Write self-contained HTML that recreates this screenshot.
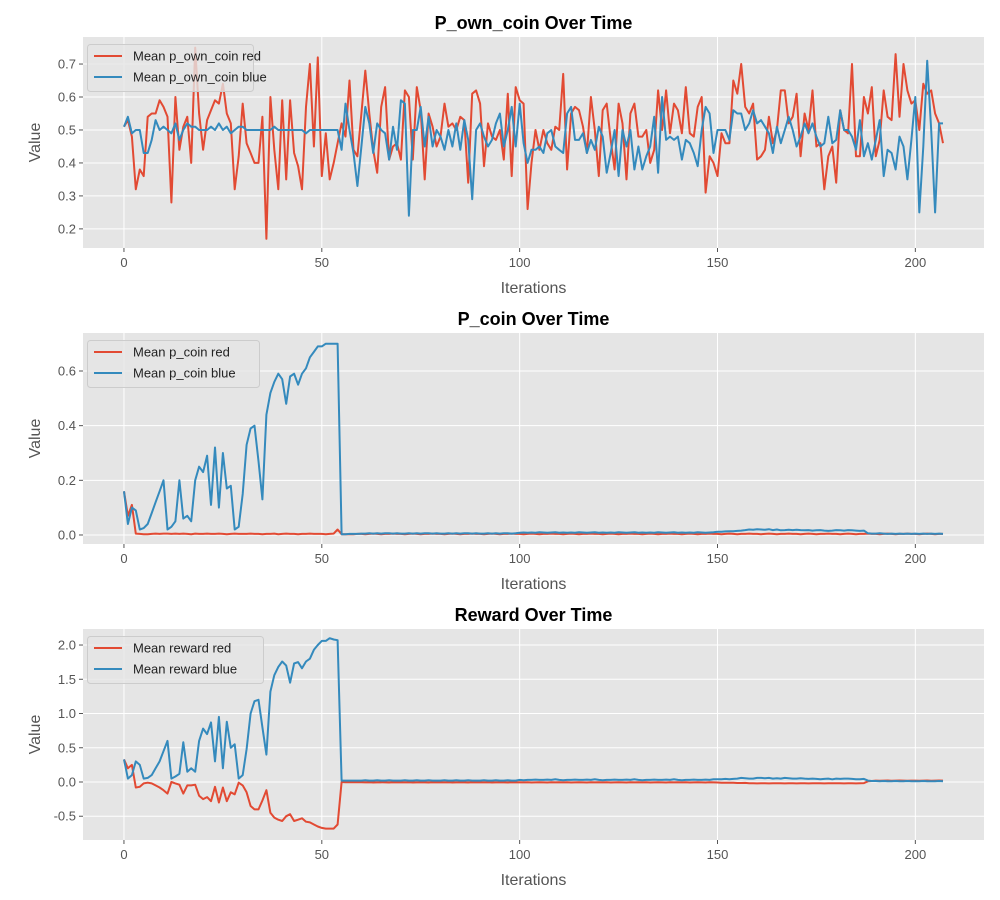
<!DOCTYPE html>
<html><head><meta charset="utf-8"><style>
body{margin:0;background:#fff}
svg{display:block;font-family:"Liberation Sans","DejaVu Sans",sans-serif}
</style></head><body>
<svg id="fig" width="1000" height="900" xmlns="http://www.w3.org/2000/svg"></svg>
<script>
const iterations_count = 208;
const xTicks = [0,50,100,150,200];
const ownRed = [.51,.53,.48,.32,.38,.36,.54,.55,.55,.59,.57,.54,.28,.60,.44,.51,.54,.40,.75,.55,.44,.53,.56,.59,.58,.64,.55,.52,.32,.42,.58,.46,.43,.40,.40,.54,.17,.60,.44,.32,.59,.35,.59,.43,.39,.32,.57,.70,.45,.72,.36,.49,.35,.40,.46,.52,.48,.65,.44,.42,.55,.68,.55,.44,.37,.57,.63,.41,.45,.46,.41,.62,.60,.41,.63,.56,.35,.55,.51,.45,.48,.58,.51,.52,.50,.54,.53,.34,.61,.62,.58,.39,.52,.48,.47,.50,.41,.61,.36,.63,.59,.58,.26,.40,.50,.44,.50,.46,.44,.51,.50,.67,.38,.55,.57,.56,.51,.43,.60,.50,.36,.56,.58,.47,.38,.58,.52,.35,.55,.58,.48,.48,.50,.40,.44,.62,.50,.62,.49,.58,.56,.49,.63,.49,.48,.57,.60,.31,.42,.40,.36,.49,.46,.46,.65,.61,.70,.57,.55,.58,.41,.42,.44,.54,.46,.50,.62,.62,.52,.54,.61,.42,.55,.50,.62,.45,.46,.32,.42,.45,.34,.56,.50,.49,.70,.42,.42,.60,.55,.63,.42,.47,.62,.54,.53,.73,.54,.70,.62,.58,.59,.50,.64,.61,.62,.55,.52,.46];
const ownBlue = [.51,.54,.49,.50,.50,.43,.43,.47,.53,.50,.51,.50,.49,.52,.47,.50,.52,.51,.51,.50,.50,.50,.51,.50,.52,.50,.51,.49,.50,.51,.51,.50,.50,.50,.50,.50,.50,.50,.51,.50,.50,.50,.50,.50,.50,.50,.49,.50,.50,.50,.50,.50,.50,.50,.50,.44,.58,.50,.43,.33,.45,.57,.52,.43,.52,.50,.49,.41,.51,.44,.59,.58,.24,.50,.50,.57,.45,.54,.45,.50,.48,.44,.50,.45,.52,.44,.53,.47,.29,.50,.52,.48,.45,.47,.52,.55,.45,.50,.57,.45,.58,.46,.40,.44,.44,.45,.43,.49,.50,.45,.44,.43,.55,.57,.47,.47,.49,.43,.47,.44,.51,.48,.37,.43,.50,.36,.50,.45,.50,.38,.45,.38,.42,.45,.54,.37,.60,.47,.48,.47,.48,.41,.47,.46,.43,.39,.50,.57,.55,.43,.50,.50,.50,.47,.56,.55,.55,.50,.52,.56,.52,.53,.51,.49,.43,.51,.46,.50,.54,.50,.45,.48,.52,.49,.52,.48,.45,.46,.54,.46,.47,.56,.50,.50,.48,.44,.53,.42,.46,.41,.47,.53,.36,.44,.43,.38,.48,.45,.35,.47,.60,.25,.45,.71,.50,.25,.52,.52];
const coinRed = [.16,.07,.11,.005,.004,.003,.003,.004,.005,.004,.005,.005,.004,.005,.004,.005,.004,.003,.005,.004,.004,.005,.004,.004,.005,.004,.003,.004,.005,.004,.004,.004,.005,.004,.004,.003,.004,.004,.005,.003,.004,.005,.004,.004,.003,.004,.004,.005,.004,.004,.004,.003,.004,.005,.02,.003,.003,.003,.003,.004,
.004,.003,.004,.005,.004,.003,.004,.004,.005,.004,.004,.003,.004,.005,.004,.003,.004,.004,.005,.004,.004,.003,.004,.005,.004,.003,.004,.004,.005,.004,.004,.003,.004,.005,.004,.003,.004,.004,.005,.004,.004,.003,.004,.005,.004,.003,.004,.004,.005,.004,.004,.003,.004,.005,.004,.003,.004,.004,.005,.004,.004,.003,.004,.005,.004,.003,.004,.004,.005,.004,.004,.003,.004,.005,.004,.003,.004,.004,.005,.004,.004,.003,.004,.005,.004,.003,.004,.004,.005,.004,.004,.003,.004,.005,.004,.003,.004,.004,.005,.004,.004,.003,.004,.005,.004,.003,.004,.004,.005,.004,.004,.003,.004,.005,.004,.003,.004,.004,.005,.004,.004,.003,.004,.005,.004,.003,.004,.004,.005,.004,.004,.003,.004,.005,.004,.003,.004,.004,.005,.004,.004,.003,.004,.005,.004,.003,.004,.004];
const coinBlue = [.16,.04,.10,.09,.02,.025,.04,.08,.12,.16,.20,.02,.03,.05,.20,.06,.07,.05,.20,.25,.23,.29,.11,.32,.10,.30,.17,.18,.02,.03,.15,.33,.39,.40,.27,.13,.44,.52,.56,.59,.57,.48,.58,.59,.55,.59,.61,.65,.67,.69,.69,.70,.70,.70,.70,.003,.003,.004,.004,.004,
.005,.005,.006,.005,.006,.005,.006,.006,.005,.006,.005,.005,.006,.005,.006,.005,.006,.006,.005,.006,.005,.005,.006,.005,.006,.005,.006,.006,.005,.006,.005,.005,.006,.005,.006,.005,.006,.006,.005,.006,
.008,.009,.008,.009,.008,.010,.009,.008,.009,.010,.008,.009,.008,.009,.008,.010,.009,.008,.009,.010,.008,.009,.008,.009,.008,.010,.009,.008,.009,.010,.008,.009,.008,.009,.008,.010,.009,.008,.009,.010,.008,.009,.008,.009,.008,.010,.009,.008,.009,.010,
.012,.012,.013,.014,.014,.015,.016,.018,.020,.019,.021,.020,.019,.021,.018,.020,.017,.018,.019,.018,.019,.018,.017,.018,.016,.017,.018,.016,.015,.016,.018,.017,.016,.018,.017,.016,.015,.016,.006,.005,.005,.006,.005,.004,.005,.004,.005,.004,.005,.004,.005,.004,.005,.004,.005,.004,.005,.004];
const rewRed = [.33,.20,.25,-.08,-.07,-.02,-.01,-.02,-.05,-.08,-.12,-.17,0,-.02,-.04,-.17,-.05,-.05,-.04,-.20,-.25,-.22,-.28,-.07,-.30,-.08,-.28,-.15,-.18,-.01,-.05,-.15,-.35,-.40,-.40,-.27,-.12,-.45,-.52,-.55,-.57,-.50,-.47,-.57,-.55,-.53,-.58,-.59,-.62,-.65,-.67,-.68,-.68,-.68,-.62,0,-.005,-.005,-.005,-.005,
-.005,-.006,-.005,-.007,-.006,-.005,-.006,-.007,-.005,-.006,-.005,-.006,-.005,-.007,-.006,-.005,-.006,-.007,-.005,-.006,-.005,-.006,-.005,-.007,-.006,-.005,-.006,-.007,-.005,-.006,-.005,-.006,-.005,-.007,-.006,-.005,-.006,-.007,-.005,-.006,-.005,-.006,-.005,-.007,-.006,-.005,-.006,-.007,-.005,-.006,-.005,-.006,-.005,-.007,-.006,-.005,-.006,-.007,-.005,-.006,-.005,-.006,-.005,-.007,-.006,-.005,-.006,-.007,-.005,-.006,-.005,-.006,-.005,-.007,-.006,-.005,-.006,-.007,-.005,-.006,-.005,-.006,-.005,-.007,-.006,-.005,-.006,-.007,-.005,-.006,
-.008,-.01,-.012,-.01,-.011,-.015,-.015,-.013,-.017,-.018,-.02,-.018,-.019,-.02,-.018,-.019,-.017,-.02,-.018,-.019,-.02,-.018,-.019,-.02,-.018,-.019,-.017,-.02,-.018,-.019,-.018,-.017,-.02,-.018,-.017,-.02,-.018,-.016,.01,.015,.02,.018,.02,.022,.018,.02,.022,.02,.018,.02,.02,.018,.02,.022,.018,.02,.022,.02];
const rewBlue = [.33,.05,.10,.30,.25,.05,.06,.10,.20,.30,.45,.60,.05,.08,.12,.58,.15,.20,.15,.60,.78,.70,.87,.30,.95,.20,.88,.50,.55,.05,.10,.48,1.0,1.18,1.2,.80,.40,1.32,1.56,1.68,1.76,1.70,1.45,1.73,1.75,1.66,1.76,1.80,1.93,2.0,2.06,2.06,2.10,2.08,2.07,.02,.02,.02,.02,.02,
.02,.025,.02,.02,.025,.02,.02,.025,.02,.02,.02,.025,.02,.02,.025,.02,.02,.025,.02,.02,.02,.025,.02,.02,.025,.02,.02,.025,.02,.02,.02,.025,.02,.02,.025,.02,.02,.025,.02,.02,
.03,.025,.03,.03,.035,.03,.03,.035,.03,.04,.03,.025,.03,.03,.035,.03,.03,.035,.03,.04,.03,.025,.03,.03,.035,.03,.03,.035,.03,.04,.03,.025,.03,.03,.035,.03,.03,.035,.03,.04,.03,.025,.03,.03,.035,.03,.03,.035,.03,.04,
.04,.04,.045,.04,.045,.05,.06,.055,.05,.05,.06,.06,.055,.06,.05,.055,.05,.06,.055,.05,.05,.055,.05,.045,.05,.045,.04,.045,.05,.04,.05,.045,.05,.05,.045,.04,.04,.045,.02,.015,.015,.01,.015,.01,.01,.015,.01,.01,.015,.01,.01,.01,.015,.01,.01,.01,.015,.01];
const ticks1 = [0.2,0.3,0.4,0.5,0.6,0.7];
const ticks2 = [0.0,0.2,0.4,0.6];
const ticks3 = [-0.5,0.0,0.5,1.0,1.5,2.0];

const NS="http://www.w3.org/2000/svg";
const svg=document.getElementById('fig');
function mk(tag,attrs,parent){const e=document.createElementNS(NS,tag);for(const k in attrs)e.setAttribute(k,attrs[k]);(parent||svg).appendChild(e);return e;}
const L=83,R=984,XMIN=-10.35,XMAX=217.35;
const xs=v=>L+(v-XMIN)/(XMAX-XMIN)*(R-L);
const RED="#E24A33",BLUE="#348ABD";
const panels=[
 {top:37,bot:248,ymin:0.142,ymax:0.782,ticks:ticks1,fmt:v=>v.toFixed(1),title:"P_own_coin Over Time",red:ownRed,blue:ownBlue,lr:"Mean p_own_coin red",lb:"Mean p_own_coin blue",lw:166,key:"own-coin"},
 {top:333,bot:544,ymin:-0.033,ymax:0.739,ticks:ticks2,fmt:v=>v.toFixed(1),title:"P_coin Over Time",red:coinRed,blue:coinBlue,lr:"Mean p_coin red",lb:"Mean p_coin blue",lw:172,key:"coin"},
 {top:629,bot:840,ymin:-0.847,ymax:2.234,ticks:ticks3,fmt:v=>v.toFixed(1),title:"Reward Over Time",red:rewRed,blue:rewBlue,lr:"Mean reward red",lb:"Mean reward blue",lw:176,key:"reward"}
];
panels.forEach(p=>{
 const g=mk('g',{});
 
 
 const ys=v=>p.bot-(v-p.ymin)/(p.ymax-p.ymin)*(p.bot-p.top);
 const bg=mk('rect',{x:L,y:p.top,width:R-L,height:p.bot-p.top,fill:"#E5E5E5"},g);
 
 
 p.ticks.forEach(t=>{const y=ys(t);
  mk('line',{x1:L,x2:R,y1:y,y2:y,stroke:"#fff","stroke-width":1},g);
  mk('line',{x1:L-4,x2:L,y1:y,y2:y,stroke:"#555"},g);
  const tx=mk('text',{x:L-7,y:y+4.5,"text-anchor":"end","font-size":13,fill:"#555"},g);tx.textContent=p.fmt(t);
  
  
 });
 xTicks.forEach(t=>{const x=xs(t);
  mk('line',{x1:x,x2:x,y1:p.top,y2:p.bot,stroke:"#fff","stroke-width":1},g);
  mk('line',{x1:x,x2:x,y1:p.bot,y2:p.bot+4,stroke:"#555"},g);
  const tx=mk('text',{x:x,y:p.bot+19,"text-anchor":"middle","font-size":13,fill:"#555"},g);tx.textContent=t;
  
  
 });
 [[p.red,RED,'red'],[p.blue,BLUE,'blue']].forEach(([arr,c,n])=>{
  const pts=arr.map((v,i)=>xs(i).toFixed(1)+","+ys(v).toFixed(1)).join(" ");
  const pl=mk('polyline',{points:pts,fill:"none",stroke:c,"stroke-width":2,"stroke-linejoin":"round"},g);
  
  
 });
 const t=mk('text',{x:(L+R)/2,y:p.top-8,"text-anchor":"middle","font-size":18,"font-weight":"bold",fill:"#000"},g);t.textContent=p.title;
 
 
 const xl=mk('text',{x:(L+R)/2,y:p.bot+45,"text-anchor":"middle","font-size":16,fill:"#555"},g);xl.textContent="Iterations";
 
 
 const cy=(p.top+p.bot)/2;
 const yl=mk('text',{x:40,y:cy,"text-anchor":"middle","font-size":16,fill:"#555",transform:`rotate(-90 40 ${cy})`},g);yl.textContent="Value";
 
 
 const lg=mk('g',{},g);
 
 
 mk('rect',{x:87.5,y:p.top+7.5,width:p.lw,height:47,rx:3,fill:"#E5E5E5","fill-opacity":0.8,stroke:"#cccccc"},lg);
 [[p.lr,RED],[p.lb,BLUE]].forEach(([lab,c],k)=>{
  const y=p.top+19+k*21;
  mk('line',{x1:94,x2:122,y1:y,y2:y,stroke:c,"stroke-width":2},lg);
  const tx=mk('text',{x:133,y:y+4.5,"font-size":13,fill:"#222"},lg);tx.textContent=lab;
  
  
 });
});
</script>
</body></html>
